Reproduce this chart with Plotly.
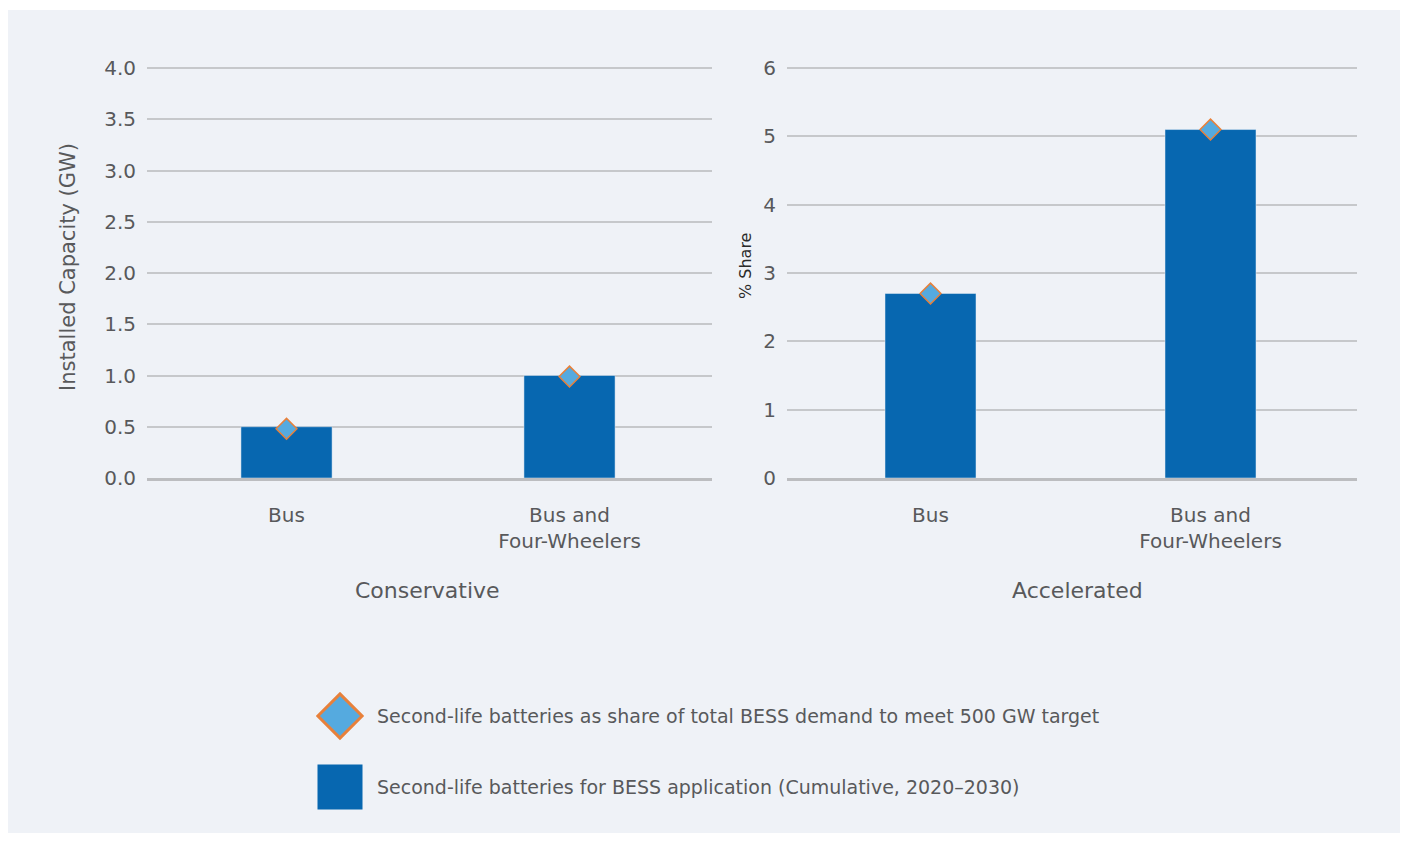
import plotly.graph_objects as go

# ---------------- data ----------------
categories = ["Bus", "Bus and<br>Four-Wheelers"]
conservative_capacity = [0.5, 1.0]      # GW, bars (left panel)
conservative_share = [0.48, 0.99]        # diamonds (left panel)
accelerated_capacity = [2.7, 5.1]       # bars (right panel)
accelerated_share = [2.7, 5.1]          # diamonds (right panel)
panel_titles = ["Conservative", "Accelerated"]
left_ticks = [0.0, 0.5, 1.0, 1.5, 2.0, 2.5, 3.0, 3.5, 4.0]
left_ticklabels = ["0.0", "0.5", "1.0", "1.5", "2.0", "2.5", "3.0", "3.5", "4.0"]
right_ticks = [0, 1, 2, 3, 4, 5, 6]
legend_labels = [
    "Second-life batteries as share of total BESS demand to meet 500 GW target",
    "Second-life batteries for BESS application (Cumulative, 2020–2030)",
]

# ---------------- style ----------------
OFF = 8                      # page body margin
W, H = 1408 - 2 * OFF, 841 - 2 * OFF
FONT = "DejaVu Sans"
TXT = "#58595b"
BAR = "#0767b0"
DIA_FILL = "#55aadf"
DIA_LINE = "#e8803a"
GRID = "#c6c8cb"
BASE = "#bcbdc0"
PANEL = "#eff2f7"

def px_x(p):
    return (p - OFF) / W

def px_y(p):
    return 1 - (p - OFF) / H

fig = go.Figure()

# left panel
fig.add_trace(go.Bar(x=categories, y=conservative_capacity, marker_color=BAR,
                     xaxis="x", yaxis="y", showlegend=False, width=0.322))
fig.add_trace(go.Scatter(x=categories, y=conservative_share, mode="markers",
                         marker=dict(symbol="diamond", size=16, color=DIA_FILL,
                                     line=dict(color=DIA_LINE, width=1.5)),
                         xaxis="x", yaxis="y", showlegend=False))
# right panel
fig.add_trace(go.Bar(x=categories, y=accelerated_capacity, marker_color=BAR,
                     xaxis="x2", yaxis="y2", showlegend=False, width=0.325))
fig.add_trace(go.Scatter(x=categories, y=accelerated_share, mode="markers",
                         marker=dict(symbol="diamond", size=16, color=DIA_FILL,
                                     line=dict(color=DIA_LINE, width=1.5)),
                         xaxis="x2", yaxis="y2", showlegend=False))

# legend drawn on a hidden pixel-like axis
fig.add_trace(go.Scatter(x=[340], y=[716], mode="markers",
                         marker=dict(symbol="diamond", size=34, color=DIA_FILL,
                                     line=dict(color=DIA_LINE, width=3)),
                         xaxis="x3", yaxis="y3", showlegend=False, hoverinfo="skip"))
fig.add_trace(go.Scatter(x=[340], y=[787], mode="markers",
                         marker=dict(symbol="square", size=45, color=BAR, line=dict(width=0)),
                         xaxis="x3", yaxis="y3", showlegend=False, hoverinfo="skip"))

ydom = [px_y(478), px_y(66)]
common_x = dict(showgrid=False, showline=True, linecolor=BASE, linewidth=3,
                ticks="outside", ticklen=17, tickcolor="rgba(0,0,0,0)", automargin=False,
                tickfont=dict(family=FONT, size=20, color=TXT), fixedrange=True)
common_y = dict(showgrid=True, gridcolor=GRID, gridwidth=1.5, zeroline=False,
                ticks="outside", ticklen=6, tickcolor="rgba(0,0,0,0)", automargin=False,
                tickfont=dict(family=FONT, size=20, color=TXT), fixedrange=True)

fig.update_layout(
    width=W, height=H, autosize=False,
    margin=dict(l=0, r=0, t=0, b=0, pad=0),
    paper_bgcolor="white", plot_bgcolor="rgba(0,0,0,0)",
    xaxis=dict(domain=[px_x(147), px_x(712)], anchor="y", range=[-0.493, 1.5035], **common_x),
    yaxis=dict(domain=ydom, anchor="x", range=[0, 4.02], tickvals=left_ticks,
               ticktext=left_ticklabels, **common_y),
    xaxis2=dict(domain=[px_x(787), px_x(1357)], anchor="y2", range=[-0.5125, 1.5232], **common_x),
    yaxis2=dict(domain=ydom, anchor="x2", range=[0, 6.03], tickvals=right_ticks, **common_y),
    xaxis3=dict(domain=[0, 1], range=[OFF, OFF + W], visible=False, fixedrange=True,
                automargin=False),
    yaxis3=dict(domain=[0, 1], range=[OFF + H, OFF], visible=False, fixedrange=True,
                anchor="x3", automargin=False),
    shapes=[dict(type="rect", xref="paper", yref="paper", layer="below",
                 x0=0, x1=1, y0=0, y1=px_y(10),
                 fillcolor=PANEL, line=dict(width=0))],
)

annotations = [
    dict(text=panel_titles[0], x=px_x(427), y=px_y(590),
         font=dict(family=FONT, size=22, color=TXT)),
    dict(text=panel_titles[1], x=px_x(1077), y=px_y(590),
         font=dict(family=FONT, size=22, color=TXT)),
    dict(text="Installed Capacity (GW)", x=px_x(68), y=px_y(267), textangle=-90,
         font=dict(family=FONT, size=21, color=TXT)),
    dict(text="% Share", x=px_x(745), y=px_y(266), textangle=-90,
         font=dict(family=FONT, size=16, color="#2a2a2a")),
    dict(text=legend_labels[0], x=px_x(375), y=px_y(716), xanchor="left",
         font=dict(family=FONT, size=19, color=TXT)),
    dict(text=legend_labels[1], x=px_x(375), y=px_y(787), xanchor="left",
         font=dict(family=FONT, size=19, color=TXT)),
]
for a in annotations:
    a.update(xref="paper", yref="paper", showarrow=False)
    a.setdefault("xanchor", "center")
    a.setdefault("yanchor", "middle")
fig.update_layout(annotations=annotations)

fig.write_html("out.html", config={"displayModeBar": False})
